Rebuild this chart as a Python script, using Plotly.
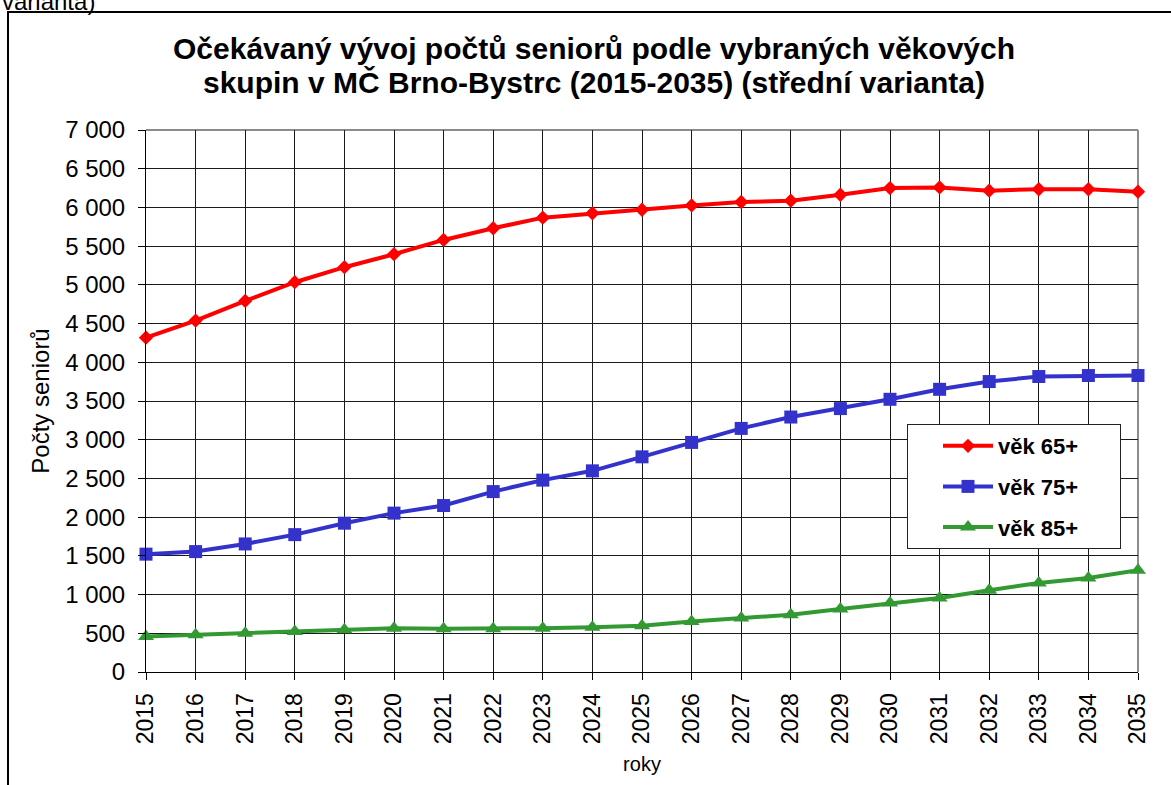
import plotly.graph_objects as go

years = [2015, 2016, 2017, 2018, 2019, 2020, 2021, 2022, 2023, 2024, 2025,
         2026, 2027, 2028, 2029, 2030, 2031, 2032, 2033, 2034, 2035]
age65 = [4318, 4539, 4793, 5034, 5228, 5396, 5580, 5731, 5868, 5925, 5970,
         6026, 6070, 6087, 6164, 6250, 6258, 6217, 6235, 6235, 6204]
age75 = [1522, 1555, 1654, 1774, 1922, 2052, 2150, 2330, 2478, 2598, 2779,
         2965, 3146, 3293, 3402, 3522, 3651, 3751, 3816, 3829, 3829]
age85 = [460, 482, 500, 523, 545, 566, 559, 559, 566, 578, 597,
         653, 696, 739, 813, 890, 955, 1055, 1150, 1215, 1313]

names = ["věk 65+", "věk 75+", "věk 85+"]
colors = ["#FF0000", "#3333CC", "#339933"]
symbols = ["diamond", "square", "triangle-up"]
sizes = [11, 13, 14]
title_lines = ["Očekávaný vývoj počtů seniorů podle vybraných věkových",
               "skupin v MČ Brno-Bystrc (2015-2035) (střední varianta)"]
caption = "varianta)"

FONT = "Liberation Sans, Arial, sans-serif"
W, H = 1171, 785
L, R, T, B = 146, 1138, 130, 672   # plot area in pixels
PW, PH = R - L, B - T


def px(x):
    return (x - L) / PW


def py(y):
    return (B - y) / PH


fig = go.Figure()
pad = "\u00a0" * 6
for vals, name, col, sym, sz in zip([age65, age75, age85], names, colors, symbols, sizes):
    fig.add_trace(go.Scatter(
        x=years, y=vals, name=name + pad, mode="lines+markers",
        line=dict(color=col, width=4),
        marker=dict(symbol=sym, size=sz, color=col),
        cliponaxis=False, legendgroup=name,
    ))

fig.update_layout(
    width=W, height=H,
    margin=dict(l=L, r=W - R, t=T, b=H - B, autoexpand=False),
    paper_bgcolor="white", plot_bgcolor="white",
    font=dict(family=FONT, color="black"),
    separators=", ",
    showlegend=True,
    legend=dict(
        x=px(907), y=py(424), xanchor="left", yanchor="top",
        bgcolor="white", bordercolor="#222222", borderwidth=1,
        font=dict(family=FONT, size=22, color="black", weight="bold"),
        indentation=30, tracegroupgap=9, itemwidth=50,
    ),
)

fig.update_xaxes(
    range=[2015, 2035], tickmode="array", tickvals=years,
    ticktext=[str(y) for y in years], tickangle=-90,
    tickfont=dict(size=23, family=FONT, color="black"),
    showgrid=True, gridcolor="#1a1a1a", gridwidth=1,
    showline=True, linecolor="black", linewidth=1,
    ticks="outside", ticklen=7, tickcolor="black", ticklabelstandoff=4,
    zeroline=False,
    title=dict(text="roky", font=dict(size=20, family=FONT, color="black"), standoff=13),
)
fig.update_yaxes(
    range=[0, 7000], tickmode="linear", tick0=0, dtick=500, tickformat=",d",
    tickfont=dict(size=24, family=FONT, color="black"),
    showgrid=True, gridcolor="#1a1a1a", gridwidth=1,
    showline=True, linecolor="black", linewidth=1,
    ticks="outside", ticklen=7, tickcolor="black", ticklabelstandoff=8,
    zeroline=False,
    title=dict(text="Počty seniorů", font=dict(size=24, family=FONT, color="black"), standoff=8),
)

# gray plot-area border (top and right)
fig.add_shape(type="line", xref="paper", yref="paper", x0=0, x1=1, y0=1, y1=1,
              line=dict(color="#8c8c8c", width=2), layer="between")
fig.add_shape(type="line", xref="paper", yref="paper", x0=1, x1=1, y0=0, y1=1,
              line=dict(color="#8c8c8c", width=2), layer="between")
# outer chart border
fig.add_shape(type="rect", xref="paper", yref="paper",
              x0=px(8), x1=px(1180), y0=py(795), y1=py(12),
              line=dict(color="black", width=2), layer="above")

for txt, ypx in zip(title_lines, [48, 82]):
    fig.add_annotation(text=f"<b>{txt}</b>", xref="paper", yref="paper",
                       x=px(594), y=py(ypx), xanchor="center", yanchor="middle",
                       showarrow=False, font=dict(size=30, family=FONT, color="black"))

fig.add_annotation(text=caption, xref="paper", yref="paper",
                   x=px(0), y=py(17), xanchor="left", yanchor="bottom",
                   showarrow=False, font=dict(size=24, family=FONT, color="black"))

fig.write_html("out.html", config={"displayModeBar": False},
               post_script="document.body.style.margin='0px';document.body.style.overflow='hidden';")
